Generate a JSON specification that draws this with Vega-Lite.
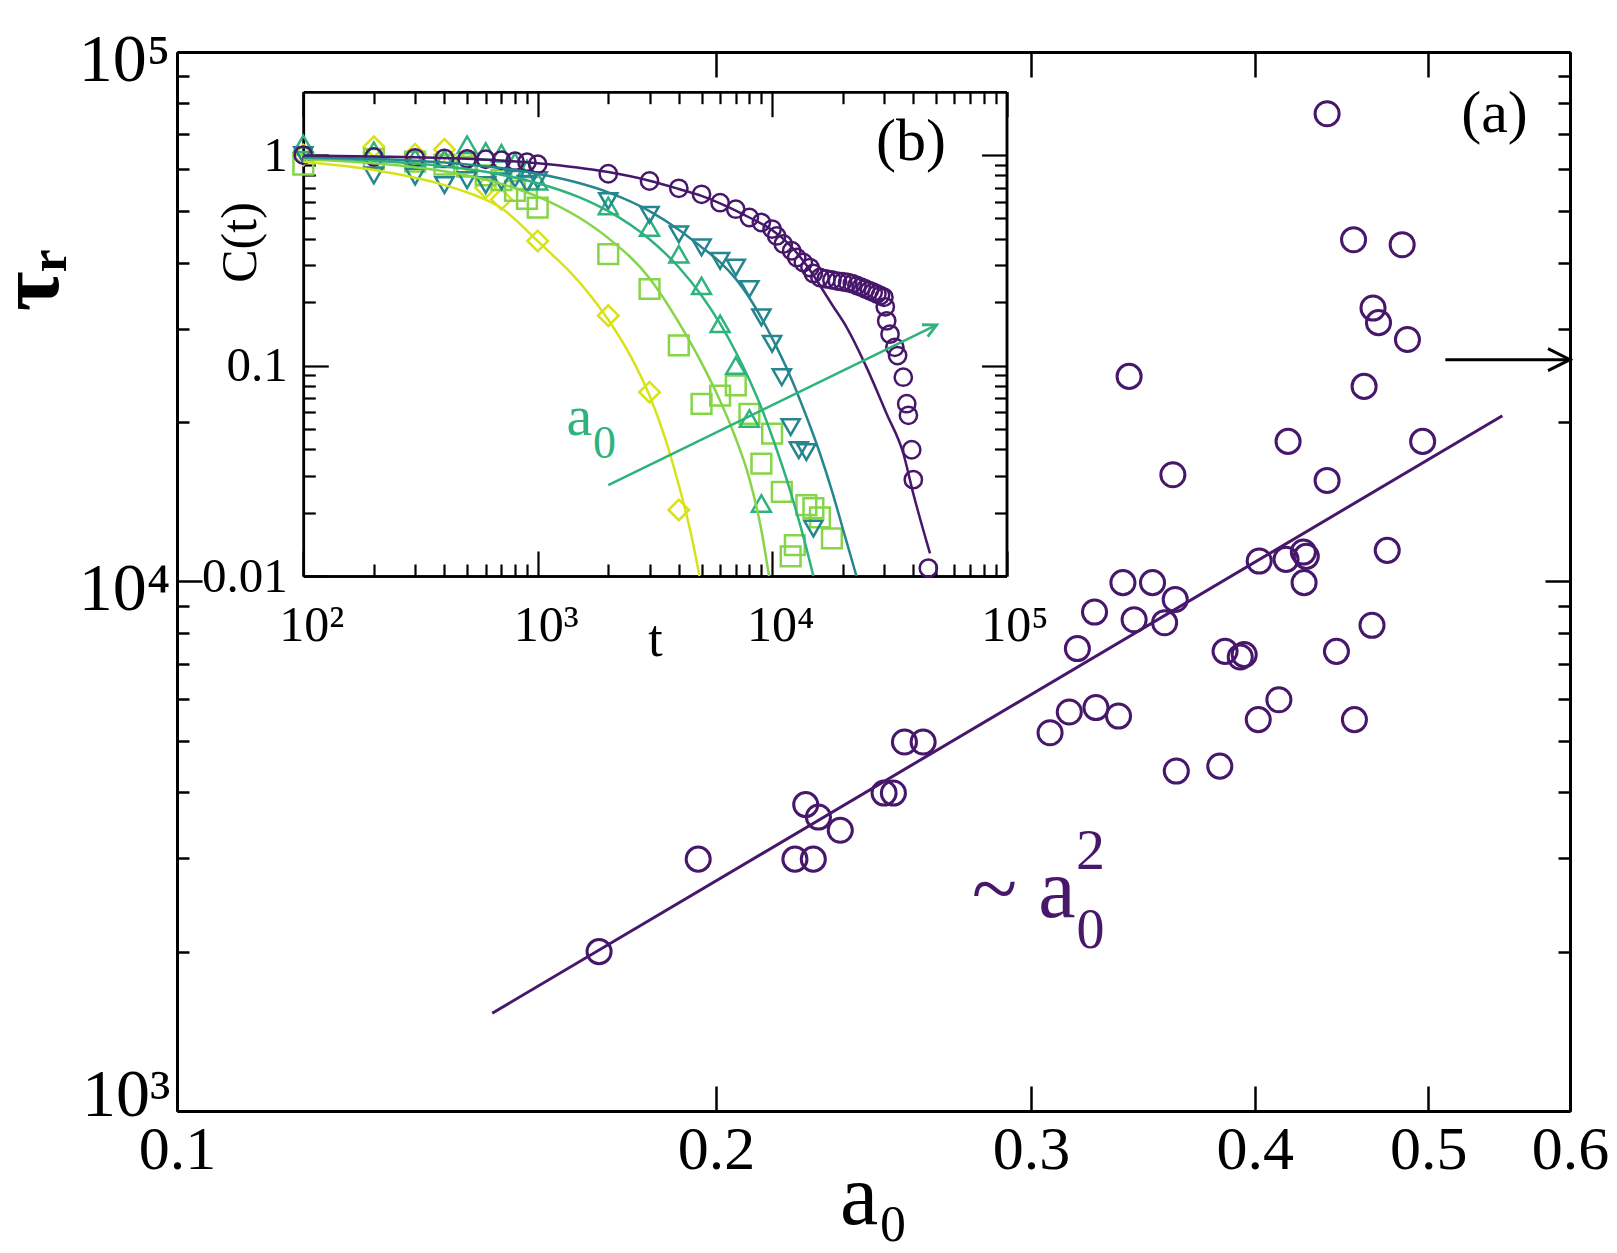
{
  "$schema": "https://vega.github.io/schema/vega-lite/v6.json",
  "width": 1393,
  "height": 1059,
  "autosize": {"type": "none"},
  "padding": {"left": 177, "top": 52, "right": 47, "bottom": 142},
  "background": "white",
  "config": {
    "view": {"stroke": null},
    "font": "Liberation Serif",
    "axis": {"grid": false, "labelFont": "Liberation Serif", "titleFont": "Liberation Serif", "domainColor": "black", "tickColor": "black", "labelColor": "black", "titleColor": "black", "labelOverlap": false, "labelFlush": false, "labelBound": false, "titleFontWeight": "normal"},
    "text": {"font": "Liberation Serif"}
  },
  "datasets": {
    "main": [
      {"a0": 0.1721, "tau": 2000}, {"a0": 0.1955, "tau": 2990}, {"a0": 0.2214, "tau": 2990}, {"a0": 0.2267, "tau": 2990},
      {"a0": 0.2245, "tau": 3790}, {"a0": 0.2282, "tau": 3590}, {"a0": 0.2347, "tau": 3390}, {"a0": 0.2483, "tau": 3985},
      {"a0": 0.2513, "tau": 3985}, {"a0": 0.2549, "tau": 4975}, {"a0": 0.2611, "tau": 4975},
      {"a0": 0.3074, "tau": 5180}, {"a0": 0.3151, "tau": 5670}, {"a0": 0.3261, "tau": 5780}, {"a0": 0.3357, "tau": 5570},
      {"a0": 0.3184, "tau": 7470}, {"a0": 0.3255, "tau": 8755}, {"a0": 0.3376, "tau": 9950}, {"a0": 0.3507, "tau": 9950},
      {"a0": 0.3425, "tau": 8470}, {"a0": 0.3562, "tau": 8360}, {"a0": 0.3611, "tau": 9250}, {"a0": 0.3616, "tau": 4385},
      {"a0": 0.3824, "tau": 4480}, {"a0": 0.385, "tau": 7380}, {"a0": 0.3926, "tau": 7200}, {"a0": 0.3946, "tau": 7275},
      {"a0": 0.4018, "tau": 5485}, {"a0": 0.4126, "tau": 5980}, {"a0": 0.4023, "tau": 10930}, {"a0": 0.4164, "tau": 11010},
      {"a0": 0.4258, "tau": 11365}, {"a0": 0.4274, "tau": 11155}, {"a0": 0.4262, "tau": 9950}, {"a0": 0.4743, "tau": 11450},
      {"a0": 0.4443, "tau": 7380}, {"a0": 0.4651, "tau": 8265}, {"a0": 0.4547, "tau": 5485},
      {"a0": 0.439, "tau": 76440}, {"a0": 0.4542, "tau": 44210}, {"a0": 0.4835, "tau": 43260}, {"a0": 0.4657, "tau": 32840},
      {"a0": 0.469, "tau": 30820}, {"a0": 0.4868, "tau": 28650}, {"a0": 0.3403, "tau": 24400}, {"a0": 0.4604, "tau": 23360},
      {"a0": 0.4175, "tau": 18390}, {"a0": 0.4964, "tau": 18390}, {"a0": 0.36, "tau": 15910}, {"a0": 0.439, "tau": 15520}
    ],
    "fit": [{"a0": 0.15, "tau": 1530}, {"a0": 0.55, "tau": 20560}],
    "inPts": [
      {"s": "1", "t": 100, "C": 1.0}, {"s": "1", "t": 200, "C": 1.095}, {"s": "1", "t": 300, "C": 1.01}, {"s": "1", "t": 400, "C": 1.064},
      {"s": "1", "t": 500, "C": 0.94}, {"s": "1", "t": 600, "C": 0.7}, {"s": "1", "t": 700, "C": 0.616}, {"s": "1", "t": 1000, "C": 0.391},
      {"s": "1", "t": 2000, "C": 0.1726}, {"s": "1", "t": 3000, "C": 0.0747}, {"s": "1", "t": 4000, "C": 0.0206},
      {"s": "2", "t": 100, "C": 0.9}, {"s": "2", "t": 200, "C": 0.96}, {"s": "2", "t": 300, "C": 0.93}, {"s": "2", "t": 400, "C": 0.9},
      {"s": "2", "t": 500, "C": 0.88}, {"s": "2", "t": 600, "C": 0.8}, {"s": "2", "t": 700, "C": 0.76}, {"s": "2", "t": 800, "C": 0.675},
      {"s": "2", "t": 900, "C": 0.62}, {"s": "2", "t": 1000, "C": 0.563}, {"s": "2", "t": 2000, "C": 0.338}, {"s": "2", "t": 3000, "C": 0.231},
      {"s": "2", "t": 4000, "C": 0.1245}, {"s": "2", "t": 5000, "C": 0.0658}, {"s": "2", "t": 6000, "C": 0.072}, {"s": "2", "t": 7000, "C": 0.0804},
      {"s": "2", "t": 8000, "C": 0.059}, {"s": "2", "t": 9000, "C": 0.0342}, {"s": "2", "t": 10000, "C": 0.0475}, {"s": "2", "t": 11000, "C": 0.0251},
      {"s": "2", "t": 12000, "C": 0.0124}, {"s": "2", "t": 12500, "C": 0.014}, {"s": "2", "t": 14000, "C": 0.0217}, {"s": "2", "t": 15000, "C": 0.021},
      {"s": "2", "t": 16000, "C": 0.019}, {"s": "2", "t": 18000, "C": 0.0151},
      {"s": "3", "t": 100, "C": 1.13}, {"s": "3", "t": 200, "C": 1.05}, {"s": "3", "t": 300, "C": 0.97}, {"s": "3", "t": 400, "C": 0.96},
      {"s": "3", "t": 500, "C": 1.12}, {"s": "3", "t": 600, "C": 1.04}, {"s": "3", "t": 700, "C": 1.02}, {"s": "3", "t": 800, "C": 0.93},
      {"s": "3", "t": 900, "C": 0.86}, {"s": "3", "t": 1000, "C": 0.75}, {"s": "3", "t": 2000, "C": 0.573}, {"s": "3", "t": 3000, "C": 0.452},
      {"s": "3", "t": 4000, "C": 0.338}, {"s": "3", "t": 5000, "C": 0.239}, {"s": "3", "t": 6000, "C": 0.158}, {"s": "3", "t": 7000, "C": 0.1},
      {"s": "3", "t": 8000, "C": 0.056}, {"s": "3", "t": 9000, "C": 0.0221},
      {"s": "4", "t": 100, "C": 1.0}, {"s": "4", "t": 200, "C": 0.8}, {"s": "4", "t": 300, "C": 0.79}, {"s": "4", "t": 400, "C": 0.72},
      {"s": "4", "t": 500, "C": 0.76}, {"s": "4", "t": 600, "C": 0.72}, {"s": "4", "t": 700, "C": 0.75}, {"s": "4", "t": 800, "C": 0.77},
      {"s": "4", "t": 900, "C": 0.73}, {"s": "4", "t": 1000, "C": 0.76}, {"s": "4", "t": 2000, "C": 0.605}, {"s": "4", "t": 3000, "C": 0.52},
      {"s": "4", "t": 4000, "C": 0.42}, {"s": "4", "t": 5000, "C": 0.364}, {"s": "4", "t": 6000, "C": 0.3145}, {"s": "4", "t": 7000, "C": 0.292},
      {"s": "4", "t": 8000, "C": 0.231}, {"s": "4", "t": 9000, "C": 0.1694}, {"s": "4", "t": 10000, "C": 0.1268}, {"s": "4", "t": 11000, "C": 0.088},
      {"s": "4", "t": 12000, "C": 0.051}, {"s": "4", "t": 13000, "C": 0.0396}, {"s": "4", "t": 14000, "C": 0.0388}, {"s": "4", "t": 15000, "C": 0.0168},
      {"s": "5", "t": 100, "C": 1.0}, {"s": "5", "t": 200, "C": 0.98}, {"s": "5", "t": 300, "C": 0.97}, {"s": "5", "t": 400, "C": 0.965},
      {"s": "5", "t": 500, "C": 0.96}, {"s": "5", "t": 600, "C": 0.955}, {"s": "5", "t": 700, "C": 0.945}, {"s": "5", "t": 800, "C": 0.935},
      {"s": "5", "t": 900, "C": 0.925}, {"s": "5", "t": 1000, "C": 0.905}, {"s": "5", "t": 2000, "C": 0.815}, {"s": "5", "t": 3000, "C": 0.753},
      {"s": "5", "t": 4000, "C": 0.695}, {"s": "5", "t": 5000, "C": 0.651}, {"s": "5", "t": 6000, "C": 0.594}, {"s": "5", "t": 7000, "C": 0.553},
      {"s": "5", "t": 8000, "C": 0.505}, {"s": "5", "t": 9000, "C": 0.478}, {"s": "5", "t": 10000, "C": 0.445}, {"s": "5", "t": 10460, "C": 0.413},
      {"s": "5", "t": 11160, "C": 0.378}, {"s": "5", "t": 12120, "C": 0.351}, {"s": "5", "t": 12730, "C": 0.326}, {"s": "5", "t": 13590, "C": 0.309},
      {"s": "5", "t": 14510, "C": 0.292}, {"s": "5", "t": 14990, "C": 0.274}, {"s": "5", "t": 16000, "C": 0.262}, {"s": "5", "t": 17000, "C": 0.258},
      {"s": "5", "t": 18000, "C": 0.255}, {"s": "5", "t": 19000, "C": 0.252}, {"s": "5", "t": 20000, "C": 0.25}, {"s": "5", "t": 21000, "C": 0.248},
      {"s": "5", "t": 22000, "C": 0.245}, {"s": "5", "t": 23000, "C": 0.24}, {"s": "5", "t": 24000, "C": 0.236}, {"s": "5", "t": 25000, "C": 0.231},
      {"s": "5", "t": 26000, "C": 0.227}, {"s": "5", "t": 27000, "C": 0.223}, {"s": "5", "t": 28000, "C": 0.219}, {"s": "5", "t": 29000, "C": 0.215},
      {"s": "5", "t": 30000, "C": 0.211}, {"s": "5", "t": 30400, "C": 0.19}, {"s": "5", "t": 30830, "C": 0.163}, {"s": "5", "t": 31850, "C": 0.141},
      {"s": "5", "t": 33400, "C": 0.122}, {"s": "5", "t": 34300, "C": 0.1115}, {"s": "5", "t": 36280, "C": 0.088}, {"s": "5", "t": 37530, "C": 0.0659},
      {"s": "5", "t": 38150, "C": 0.058}, {"s": "5", "t": 39400, "C": 0.0398}, {"s": "5", "t": 40040, "C": 0.0287}, {"s": "5", "t": 46400, "C": 0.0109}
    ],
    "inFit": [
      {"s": "1", "t": 100, "C": 0.93}, {"s": "1", "t": 200, "C": 0.85}, {"s": "1", "t": 300, "C": 0.78}, {"s": "1", "t": 400, "C": 0.72},
      {"s": "1", "t": 500, "C": 0.665}, {"s": "1", "t": 700, "C": 0.56}, {"s": "1", "t": 1000, "C": 0.39}, {"s": "1", "t": 1500, "C": 0.25},
      {"s": "1", "t": 2000, "C": 0.165}, {"s": "1", "t": 2500, "C": 0.11}, {"s": "1", "t": 3000, "C": 0.072}, {"s": "1", "t": 3500, "C": 0.045},
      {"s": "1", "t": 4000, "C": 0.027}, {"s": "1", "t": 4500, "C": 0.016}, {"s": "1", "t": 4900, "C": 0.01},
      {"s": "2", "t": 100, "C": 0.955}, {"s": "2", "t": 200, "C": 0.915}, {"s": "2", "t": 300, "C": 0.875}, {"s": "2", "t": 500, "C": 0.8},
      {"s": "2", "t": 700, "C": 0.73}, {"s": "2", "t": 1000, "C": 0.635}, {"s": "2", "t": 1500, "C": 0.505}, {"s": "2", "t": 2000, "C": 0.403},
      {"s": "2", "t": 3000, "C": 0.26}, {"s": "2", "t": 4000, "C": 0.16}, {"s": "2", "t": 5000, "C": 0.103}, {"s": "2", "t": 6000, "C": 0.068},
      {"s": "2", "t": 7000, "C": 0.045}, {"s": "2", "t": 8000, "C": 0.029}, {"s": "2", "t": 9000, "C": 0.0165}, {"s": "2", "t": 9700, "C": 0.01},
      {"s": "3", "t": 100, "C": 0.97}, {"s": "3", "t": 200, "C": 0.94}, {"s": "3", "t": 300, "C": 0.912}, {"s": "3", "t": 500, "C": 0.858},
      {"s": "3", "t": 700, "C": 0.806}, {"s": "3", "t": 1000, "C": 0.735}, {"s": "3", "t": 1500, "C": 0.631}, {"s": "3", "t": 2000, "C": 0.541},
      {"s": "3", "t": 3000, "C": 0.398}, {"s": "3", "t": 4000, "C": 0.293}, {"s": "3", "t": 5000, "C": 0.215}, {"s": "3", "t": 6000, "C": 0.158},
      {"s": "3", "t": 7000, "C": 0.116}, {"s": "3", "t": 8000, "C": 0.0856}, {"s": "3", "t": 9000, "C": 0.063}, {"s": "3", "t": 10000, "C": 0.046},
      {"s": "3", "t": 12000, "C": 0.025}, {"s": "3", "t": 14000, "C": 0.0136}, {"s": "3", "t": 15000, "C": 0.01},
      {"s": "4", "t": 100, "C": 0.98}, {"s": "4", "t": 200, "C": 0.96}, {"s": "4", "t": 300, "C": 0.94}, {"s": "4", "t": 500, "C": 0.903},
      {"s": "4", "t": 700, "C": 0.867}, {"s": "4", "t": 1000, "C": 0.815}, {"s": "4", "t": 1500, "C": 0.736}, {"s": "4", "t": 2000, "C": 0.665},
      {"s": "4", "t": 3000, "C": 0.542}, {"s": "4", "t": 4000, "C": 0.442}, {"s": "4", "t": 5000, "C": 0.365}, {"s": "4", "t": 6000, "C": 0.31},
      {"s": "4", "t": 7000, "C": 0.258}, {"s": "4", "t": 8000, "C": 0.21}, {"s": "4", "t": 10000, "C": 0.135}, {"s": "4", "t": 12000, "C": 0.088},
      {"s": "4", "t": 14000, "C": 0.0574}, {"s": "4", "t": 16000, "C": 0.0382}, {"s": "4", "t": 18000, "C": 0.0254}, {"s": "4", "t": 20000, "C": 0.0169},
      {"s": "4", "t": 22900, "C": 0.01},
      {"s": "5", "t": 100, "C": 0.995}, {"s": "5", "t": 200, "C": 0.985}, {"s": "5", "t": 500, "C": 0.96}, {"s": "5", "t": 1000, "C": 0.915},
      {"s": "5", "t": 2000, "C": 0.83}, {"s": "5", "t": 3000, "C": 0.755}, {"s": "5", "t": 4000, "C": 0.69}, {"s": "5", "t": 5000, "C": 0.64},
      {"s": "5", "t": 6000, "C": 0.59}, {"s": "5", "t": 7000, "C": 0.545}, {"s": "5", "t": 8000, "C": 0.505}, {"s": "5", "t": 10000, "C": 0.44},
      {"s": "5", "t": 12000, "C": 0.37}, {"s": "5", "t": 14000, "C": 0.3}, {"s": "5", "t": 16000, "C": 0.24}, {"s": "5", "t": 18000, "C": 0.195},
      {"s": "5", "t": 20800, "C": 0.152}, {"s": "5", "t": 25300, "C": 0.098}, {"s": "5", "t": 30800, "C": 0.059}, {"s": "5", "t": 36300, "C": 0.0382},
      {"s": "5", "t": 40000, "C": 0.0247}, {"s": "5", "t": 47170, "C": 0.0128}
    ]
  },
  "layer": [
    {
      "layer": [
        {
          "data": {"name": "main"},
          "mark": {"type": "point", "shape": "circle", "filled": false, "size": 580, "strokeWidth": 3, "color": "#47176b", "opacity": 1},
          "encoding": {
            "x": {"field": "a0", "type": "quantitative", "scale": {"type": "log", "domain": [0.1, 0.6], "nice": false},
              "axis": {"orient": "bottom", "values": [0.1, 0.2, 0.3, 0.4, 0.5, 0.6], "labelExpr": "format(datum.value, '.1f')", "tickSize": -25, "tickWidth": 2.5, "domainWidth": 3, "labelFontSize": 62, "labelPadding": 33, "title": "a₀", "titleFontSize": 86, "titleY": 112, "titleBaseline": "alphabetic"}},
            "y": {"field": "tau", "type": "quantitative", "scale": {"type": "log", "domain": [1000, 100000], "nice": false},
              "axis": {"orient": "left", "values": [1000, 10000, 100000], "labelExpr": "datum.value == 1000 ? '10³' : datum.value == 10000 ? '10⁴' : '10⁵'", "tickSize": -25, "tickWidth": 2.5, "domainWidth": 3, "labelFontSize": 68, "labelPadding": 32, "labelOffset": {"condition": {"test": "datum.value == 1000", "value": -16}, "value": 8}, "title": "τᵣ", "titleFontSize": 86, "titleFontWeight": "bold", "titleAngle": 270, "titleX": -120, "titleY": 228, "titleAlign": "center", "titleBaseline": "alphabetic"}}
          }
        },
        {
          "data": {"name": "fit"},
          "mark": {"type": "line", "color": "#47176b", "strokeWidth": 3},
          "encoding": {
            "x": {"field": "a0", "type": "quantitative", "scale": {"type": "log", "domain": [0.1, 0.6], "nice": false},
              "axis": {"orient": "top", "values": [0.2, 0.3, 0.4, 0.5], "labels": false, "tickSize": -25, "tickWidth": 2.5, "domainWidth": 3, "title": null}},
            "y": {"field": "tau", "type": "quantitative", "scale": {"type": "log", "domain": [1000, 100000], "nice": false},
              "axis": {"orient": "right", "values": [1000, 10000, 100000], "labels": false, "tickSize": -25, "tickWidth": 2.5, "domainWidth": 3, "title": null}}
          }
        },
        {
          "data": {"values": [{"a0": 0.5111, "tau": 26240}, {"a0": 0.6, "tau": 26240}]},
          "mark": {"type": "line", "color": "black", "strokeWidth": 3},
          "encoding": {
            "x": {"field": "a0", "type": "quantitative", "scale": {"type": "log", "domain": [0.1, 0.6], "nice": false}, "axis": null},
            "y": {"field": "tau", "type": "quantitative", "scale": {"type": "log", "domain": [1000, 100000], "nice": false},
              "axis": {"orient": "left", "values": [2000, 3000, 4000, 5000, 6000, 7000, 8000, 9000, 20000, 30000, 40000, 50000, 60000, 70000, 80000, 90000], "labels": false, "tickSize": -12, "tickWidth": 2.5, "domainWidth": 3, "title": null}}
          }
        },
        {
          "data": {"values": [{"a0": 0.6, "tau": 26240}]},
          "mark": {"type": "point", "shape": "M-1,-0.5L0,0L-1,0.5", "filled": false, "size": 1936, "strokeWidth": 3, "color": "black", "opacity": 1},
          "encoding": {
            "x": {"field": "a0", "type": "quantitative", "scale": {"type": "log", "domain": [0.1, 0.6], "nice": false}, "axis": null},
            "y": {"field": "tau", "type": "quantitative", "scale": {"type": "log", "domain": [1000, 100000], "nice": false},
              "axis": {"orient": "right", "values": [2000, 3000, 4000, 5000, 6000, 7000, 8000, 9000, 20000, 30000, 40000, 50000, 60000, 70000, 80000, 90000], "labels": false, "tickSize": -12, "tickWidth": 2.5, "domainWidth": 3, "title": null}}
          }
        },
        {
          "data": {"values": [{"a0": 0.5445, "tau": 76210, "label": "(a)"}]},
          "mark": {"type": "text", "fontSize": 60, "align": "center", "baseline": "middle", "color": "black"},
          "encoding": {
            "x": {"field": "a0", "type": "quantitative", "scale": {"type": "log", "domain": [0.1, 0.6], "nice": false}, "axis": null},
            "y": {"field": "tau", "type": "quantitative", "scale": {"type": "log", "domain": [1000, 100000], "nice": false}, "axis": null},
            "text": {"field": "label"}
          }
        },
        {
          "data": {"values": [{"a0": 0.3176, "tau": 2320, "label": "~ a"}]},
          "mark": {"type": "text", "fontSize": 84, "align": "right", "baseline": "alphabetic", "color": "#47176b"},
          "encoding": {
            "x": {"field": "a0", "type": "quantitative", "scale": {"type": "log", "domain": [0.1, 0.6], "nice": false}, "axis": null},
            "y": {"field": "tau", "type": "quantitative", "scale": {"type": "log", "domain": [1000, 100000], "nice": false}, "axis": null},
            "text": {"field": "label"}
          }
        },
        {
          "data": {"values": [{"a0": 0.3178, "tau": 2860, "label": "2"}]},
          "mark": {"type": "text", "fontSize": 58, "align": "left", "baseline": "alphabetic", "color": "#47176b"},
          "encoding": {
            "x": {"field": "a0", "type": "quantitative", "scale": {"type": "log", "domain": [0.1, 0.6], "nice": false}, "axis": null},
            "y": {"field": "tau", "type": "quantitative", "scale": {"type": "log", "domain": [1000, 100000], "nice": false}, "axis": null},
            "text": {"field": "label"}
          }
        },
        {
          "data": {"values": [{"a0": 0.318, "tau": 2029, "label": "0"}]},
          "mark": {"type": "text", "fontSize": 56, "align": "left", "baseline": "alphabetic", "color": "#47176b"},
          "encoding": {
            "x": {"field": "a0", "type": "quantitative", "scale": {"type": "log", "domain": [0.1, 0.6], "nice": false}, "axis": null},
            "y": {"field": "tau", "type": "quantitative", "scale": {"type": "log", "domain": [1000, 100000], "nice": false}, "axis": null},
            "text": {"field": "label"}
          }
        }
      ],
      "resolve": {"axis": {"x": "independent", "y": "independent"}}
    },
    {
      "layer": [
        {
          "data": {"name": "inPts"},
          "mark": {"type": "point", "filled": false, "strokeWidth": 2.5, "opacity": 1},
          "encoding": {
            "x": {"field": "t", "type": "quantitative", "scale": {"type": "log", "domain": [100, 100000], "range": [126.3, 829.5], "nice": false},
              "axis": {"orient": "bottom", "offset": -535, "values": [100, 1000, 10000, 100000], "labelExpr": "datum.value == 100 ? '10²' : datum.value == 1000 ? '10³' : datum.value == 10000 ? '10⁴' : '10⁵'", "tickSize": -25, "tickWidth": 2.2, "domainWidth": 2.5, "labelFontSize": 50, "labelPadding": 49, "labelOffset": 8, "title": "t", "titleFontSize": 52, "titleY": 79, "titleBaseline": "alphabetic"}},
            "y": {"field": "C", "type": "quantitative", "scale": {"type": "log", "domain": [0.01, 2], "range": [524, 39.7], "nice": false},
              "axis": {"orient": "left", "offset": -126.3, "values": [0.01, 0.1, 1], "labelExpr": "datum.value == 1 ? '1' : datum.value == 0.1 ? '0.1' : '0.01'", "tickSize": -25, "tickWidth": 2.2, "domainWidth": 2.5, "labelFontSize": 49, "labelPadding": 41, "title": "C(t)", "titleFontSize": 50, "titleAngle": 270, "titleX": -48, "titleY": 190, "titleAlign": "center", "titleBaseline": "alphabetic"}},
            "color": {"field": "s", "type": "nominal", "scale": {"domain": ["1", "2", "3", "4", "5"], "range": ["#d8e219", "#86d549", "#2eb37c", "#26868e", "#47176b"]}, "legend": null},
            "shape": {"field": "s", "type": "nominal", "scale": {"domain": ["1", "2", "3", "4", "5"], "range": ["diamond", "square", "triangle-up", "triangle-down", "circle"]}, "legend": null},
            "size": {"field": "s", "type": "ordinal", "scale": {"domain": ["1", "2", "3", "4", "5"], "range": [420, 300, 360, 360, 250]}, "legend": null}
          }
        },
        {
          "data": {"name": "inFit"},
          "mark": {"type": "line", "strokeWidth": 2.5, "interpolate": "monotone"},
          "encoding": {
            "x": {"field": "t", "type": "quantitative", "scale": {"type": "log", "domain": [100, 100000], "range": [126.3, 829.5], "nice": false},
              "axis": {"orient": "top", "offset": -39.7, "values": [100, 1000, 10000, 100000], "labels": false, "tickSize": -25, "tickWidth": 2.2, "domainWidth": 2.5, "title": null}},
            "y": {"field": "C", "type": "quantitative", "scale": {"type": "log", "domain": [0.01, 2], "range": [524, 39.7], "nice": false},
              "axis": {"orient": "right", "offset": -563.5, "values": [0.01, 0.1, 1], "labels": false, "tickSize": -25, "tickWidth": 2.2, "domainWidth": 2.5, "title": null}},
            "color": {"field": "s", "type": "nominal", "scale": {"domain": ["1", "2", "3", "4", "5"], "range": ["#d8e219", "#86d549", "#2eb37c", "#26868e", "#47176b"]}, "legend": null}
          }
        },
        {
          "data": {"values": [{"t": 2000, "C": 0.027}, {"t": 50380, "C": 0.156}]},
          "mark": {"type": "line", "color": "#2eb37c", "strokeWidth": 2.5},
          "encoding": {
            "x": {"field": "t", "type": "quantitative", "scale": {"type": "log", "domain": [100, 100000], "range": [126.3, 829.5], "nice": false},
              "axis": {"orient": "bottom", "offset": -535, "values": [200, 300, 400, 500, 600, 700, 800, 900, 2000, 3000, 4000, 5000, 6000, 7000, 8000, 9000, 20000, 30000, 40000, 50000, 60000, 70000, 80000, 90000], "labels": false, "tickSize": -12, "tickWidth": 2.2, "domainWidth": 2.5, "title": null}},
            "y": {"field": "C", "type": "quantitative", "scale": {"type": "log", "domain": [0.01, 2], "range": [524, 39.7], "nice": false},
              "axis": {"orient": "left", "offset": -126.3, "values": [0.02, 0.03, 0.04, 0.05, 0.06, 0.07, 0.08, 0.09, 0.2, 0.3, 0.4, 0.5, 0.6, 0.7, 0.8, 0.9], "labels": false, "tickSize": -12, "tickWidth": 2.2, "domainWidth": 2.5, "title": null}}
          }
        },
        {
          "data": {"values": [{"t": 50380, "C": 0.156}]},
          "mark": {"type": "point", "shape": "M-1,-0.5L0,0L-1,0.5", "filled": false, "size": 700, "strokeWidth": 2.8, "color": "#2eb37c", "angle": 334, "opacity": 1},
          "encoding": {
            "x": {"field": "t", "type": "quantitative", "scale": {"type": "log", "domain": [100, 100000], "range": [126.3, 829.5], "nice": false},
              "axis": {"orient": "top", "offset": -39.7, "values": [200, 300, 400, 500, 600, 700, 800, 900, 2000, 3000, 4000, 5000, 6000, 7000, 8000, 9000, 20000, 30000, 40000, 50000, 60000, 70000, 80000, 90000], "labels": false, "tickSize": -12, "tickWidth": 2.2, "domainWidth": 2.5, "title": null}},
            "y": {"field": "C", "type": "quantitative", "scale": {"type": "log", "domain": [0.01, 2], "range": [524, 39.7], "nice": false},
              "axis": {"orient": "right", "offset": -563.5, "values": [0.02, 0.03, 0.04, 0.05, 0.06, 0.07, 0.08, 0.09, 0.2, 0.3, 0.4, 0.5, 0.6, 0.7, 0.8, 0.9], "labels": false, "tickSize": -12, "tickWidth": 2.2, "domainWidth": 2.5, "title": null}}
          }
        },
        {
          "data": {"values": [{"t": 39140, "C": 1.152, "label": "(b)"}]},
          "mark": {"type": "text", "fontSize": 60, "align": "center", "baseline": "middle", "color": "black"},
          "encoding": {
            "x": {"field": "t", "type": "quantitative", "scale": {"type": "log", "domain": [100, 100000], "range": [126.3, 829.5], "nice": false}, "axis": null},
            "y": {"field": "C", "type": "quantitative", "scale": {"type": "log", "domain": [0.01, 2], "range": [524, 39.7], "nice": false}, "axis": null},
            "text": {"field": "label"}
          }
        },
        {
          "data": {"values": [{"t": 1710, "C": 0.0466, "label": "a"}]},
          "mark": {"type": "text", "fontSize": 58, "align": "right", "baseline": "alphabetic", "color": "#2eb37c"},
          "encoding": {
            "x": {"field": "t", "type": "quantitative", "scale": {"type": "log", "domain": [100, 100000], "range": [126.3, 829.5], "nice": false}, "axis": null},
            "y": {"field": "C", "type": "quantitative", "scale": {"type": "log", "domain": [0.01, 2], "range": [524, 39.7], "nice": false}, "axis": null},
            "text": {"field": "label"}
          }
        },
        {
          "data": {"values": [{"t": 1720, "C": 0.0362, "label": "0"}]},
          "mark": {"type": "text", "fontSize": 46, "align": "left", "baseline": "alphabetic", "color": "#2eb37c"},
          "encoding": {
            "x": {"field": "t", "type": "quantitative", "scale": {"type": "log", "domain": [100, 100000], "range": [126.3, 829.5], "nice": false}, "axis": null},
            "y": {"field": "C", "type": "quantitative", "scale": {"type": "log", "domain": [0.01, 2], "range": [524, 39.7], "nice": false}, "axis": null},
            "text": {"field": "label"}
          }
        }
      ],
      "resolve": {"axis": {"x": "independent", "y": "independent"}}
    }
  ],
  "resolve": {"scale": {"x": "independent", "y": "independent"}, "axis": {"x": "independent", "y": "independent"}}
}
